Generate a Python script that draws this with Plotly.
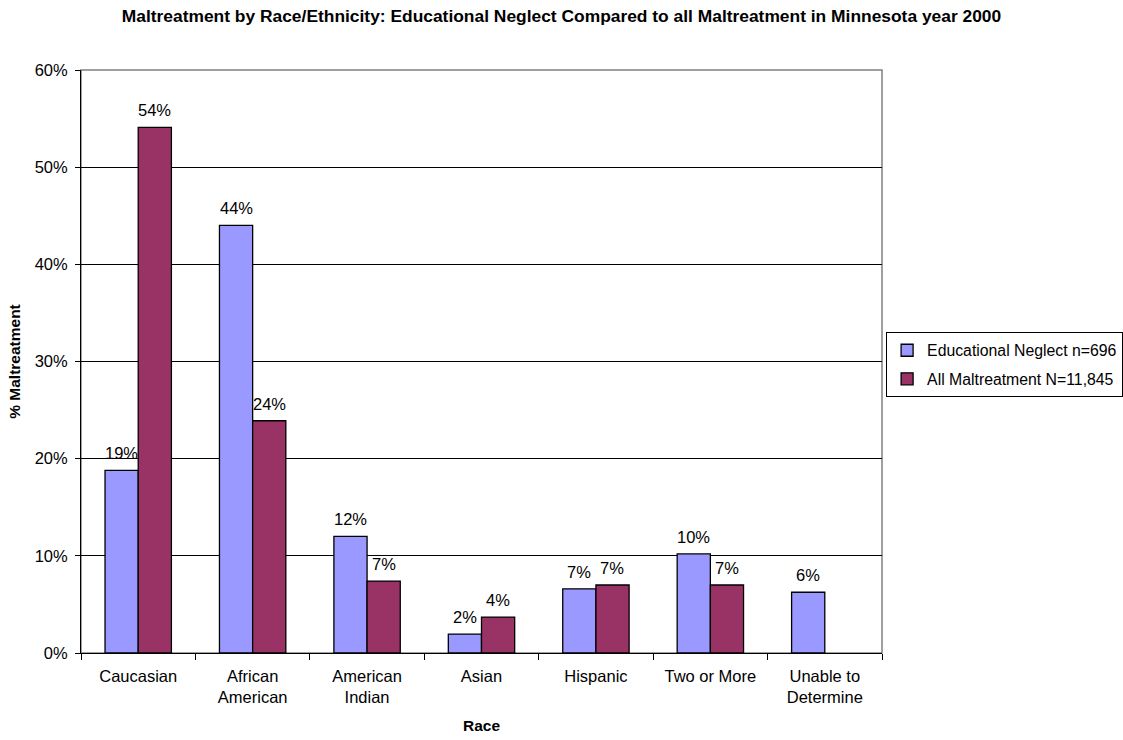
import plotly.graph_objects as go

categories = ["Caucasian", "African<br>American", "American<br>Indian", "Asian", "Hispanic", "Two or More", "Unable to<br>Determine"]
educational_neglect = [18.8, 44.0, 12.0, 1.95, 6.6, 10.2, 6.25]
all_maltreatment = [54.1, 23.9, 7.4, 3.7, 7.0, 7.0, None]
series_names = ["Educational Neglect n=696", "All Maltreatment N=11,845"]
y_ticks = [0, 10, 20, 30, 40, 50, 60]

FONT = "Liberation Sans, Arial, sans-serif"
fig = go.Figure()
fig.add_trace(go.Bar(x=categories, y=educational_neglect, name=series_names[0], legendgroup="a",
                     marker=dict(color="#9999FF", line=dict(color="#000000", width=1.3))))
fig.add_trace(go.Bar(x=categories, y=all_maltreatment, name=series_names[1], legendgroup="b",
                     marker=dict(color="#993366", line=dict(color="#000000", width=1.3))))

annotations = []
for vals, shift in ((educational_neglect, -16.5), (all_maltreatment, 16.5)):
    for c, v in zip(categories, vals):
        if v is None:
            continue
        annotations.append(dict(x=c, y=v, xref="x", yref="y", text=f"{v:.0f}%", showarrow=False,
                                xshift=shift, yanchor="bottom", yshift=6,
                                font=dict(family=FONT, size=16.5, color="#000")))

fig.update_layout(
    width=1123, height=740,
    margin=dict(l=81, r=241, t=70, b=87, autoexpand=False),
    paper_bgcolor="white", plot_bgcolor="white",
    font=dict(family=FONT, size=16.5, color="#000"),
    title=dict(text="<b>Maltreatment by Race/Ethnicity: Educational Neglect Compared to all Maltreatment in Minnesota year 2000</b>",
               x=0.5, xref="container", xanchor="center", y=0.979, yanchor="middle",
               font=dict(family=FONT, size=17.4, color="#000")),
    barmode="group", bargap=0.42, bargroupgap=0,
    showlegend=True,
    legend=dict(x=1.301, y=0.494, xanchor="right", yanchor="middle",
                bordercolor="#000", borderwidth=1, bgcolor="white",
                font=dict(family=FONT, size=15.8, color="#000"),
                traceorder="grouped", tracegroupgap=5, itemwidth=30),
    annotations=annotations,
    shapes=[dict(type="rect", xref="paper", yref="paper", x0=0, x1=1, y0=0, y1=1,
                 line=dict(color="#808080", width=1.5), layer="below")],
)
fig.update_xaxes(showline=True, linecolor="#000", linewidth=1,
                 ticks="outside", ticklen=6, tickcolor="#000", tickson="boundaries",
                 ticklabelstandoff=8,
                 title=dict(text="<b>Race</b>", font=dict(family=FONT, size=15.5), standoff=14),
                 tickfont=dict(family=FONT, size=16.5), showgrid=False)
fig.update_yaxes(range=[0, 60], tickvals=y_ticks, ticktext=[f"{t}%" for t in y_ticks],
                 showline=True, linecolor="#000", linewidth=1,
                 ticks="outside", ticklen=5, tickcolor="#000", ticklabelstandoff=4,
                 showgrid=True, gridcolor="#000", gridwidth=1, zeroline=False,
                 title=dict(text="<b>% Maltreatment</b>", font=dict(family=FONT, size=15.5), standoff=10),
                 tickfont=dict(family=FONT, size=16.5))

fig.write_html("out.html")
